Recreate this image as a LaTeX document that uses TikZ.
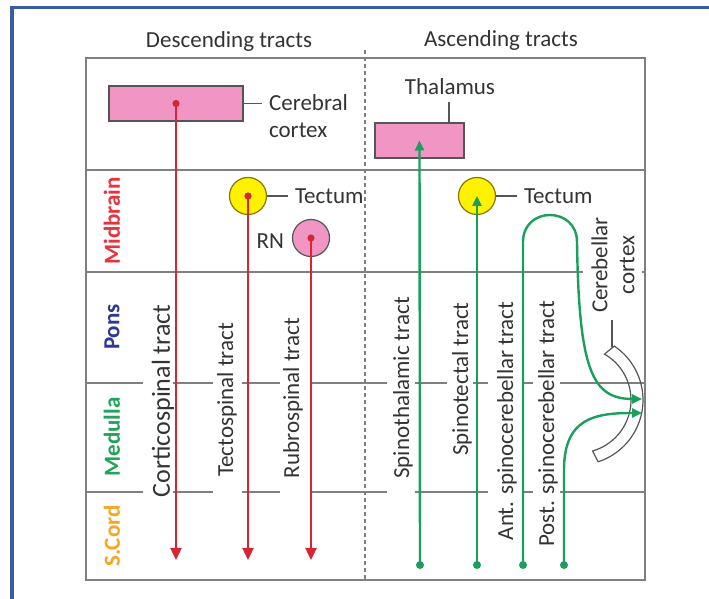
\documentclass[tikz,border=0pt]{standalone}
\usepackage{fontspec}
\setmainfont{Carlito}
\usetikzlibrary{arrows.meta,positioning,calc}

\definecolor{tractred}{HTML}{D62634}
\definecolor{tractgreen}{HTML}{1AA05A}
\definecolor{cortexpink}{HTML}{F196C4}
\definecolor{tectyellow}{HTML}{FFF200}
\definecolor{tectrim}{HTML}{8A7600}
\definecolor{boxgray}{HTML}{555555}
\definecolor{linegray}{HTML}{808080}
\definecolor{textgray}{HTML}{333333}
\definecolor{frameblue}{HTML}{3B5BA5}
\definecolor{midred}{HTML}{E8323C}
\definecolor{ponsblue}{HTML}{2B3990}
\definecolor{medgreen}{HTML}{21A35A}
\definecolor{cordorange}{HTML}{F5A623}

\begin{document}
\begin{tikzpicture}[x=0.5pt,y=-0.5pt,
    divider/.style={linegray, line width=0.7pt},
    desc/.style={tractred, line width=1.2pt, -{Triangle[length=6pt,width=5.5pt]}},
    asc/.style={tractgreen, line width=1.2pt, -{Triangle[length=5pt,width=4.5pt]}},
    pinkbox/.style={draw=boxgray, fill=cortexpink, line width=0.6pt, minimum height=17.5pt, inner sep=0pt},
    nucleus/.style={circle, line width=0.6pt, minimum size=18.5pt, inner sep=0pt},
    lbl/.style={text=textgray, font=\fontsize{11.5}{13.5}\selectfont},
    tractlbl/.style={lbl, rotate=90},
    region/.style={rotate=90, font=\bfseries\fontsize{11.5}{13.5}\selectfont}]
    \useasboundingbox (0,0) rectangle (709,599);

    % Frame
    \draw[frameblue, line width=1.5pt] (12,610) -- (12,8) -- (720,8);

    % Headings
    \node[lbl] (hdesc) at (229,41) {Descending tracts};
    \node[lbl] (hasc) at (501,40) {Ascending tracts};

    % Box and levels
    \draw[divider] (86,58) rectangle (645,580);
    \draw[divider] (86,170) -- (645,170);
    \draw[divider] (86,272) -- (583,272);
    \draw[divider] (642,272) -- (645,272);
    \foreach \a/\b in {86/143,173/213,242/280,312/387,415/447,473/488,522/533,560/645}
        \draw[divider] (\a,383) -- (\b,383);
    \foreach \a/\b in {86/143,173/213,242/280,312/387,415/488,522/533,560/645}
        \draw[divider] (\a,492) -- (\b,492);
    \draw[linegray, line width=0.7pt, dash pattern=on 2pt off 1.5pt] (365,50) -- (365,580);

    % Levels
    \node[region, midred] (midbrain) at (112,221) {Midbrain};
    \node[region, ponsblue] (pons) at (112,327) {Pons};
    \node[region, medgreen] (medulla) at (112,437) {Medulla};
    \node[region, cordorange] (scord) at (112,536) {S.Cord};

    % Nuclei
    \node[pinkbox, minimum width=67pt] (cerebral) at (176,103.5) {};
    \node[lbl, anchor=west, align=left] (cerlbl) at (262,116.5) {Cerebral\\cortex};
    \draw[boxgray, line width=0.6pt] (cerebral.east) -- (cerebral.east -| cerlbl.west);

    \node[nucleus, draw=tectrim, fill=tectyellow] (tectumL) at (248,196) {};
    \node[lbl, anchor=west] (tectLlbl) at (288,196) {Tectum};
    \draw[boxgray, line width=0.6pt] (tectumL.east) -- (tectLlbl.west);

    \node[nucleus, draw=boxgray, fill=cortexpink] (rn) at (311,238) {};
    \node[lbl, anchor=east] (rnlbl) at (291,241) {RN};

    \node[pinkbox, minimum width=44.5pt] (thalamus) at (419.5,140.5) {};
    \node[lbl] (thallbl) at (450,87) {Thalamus};
    \draw[boxgray, line width=0.6pt] (thallbl.south -| 449,0) -- (449,0 |- thalamus.north);

    \node[nucleus, draw=tectrim, fill=tectyellow] (tectumR) at (477,196) {};
    \node[lbl, anchor=west] (tectRlbl) at (517,196) {Tectum};
    \draw[boxgray, line width=0.6pt] (tectumR.east) -- (tectRlbl.west);

    % Cerebellar cortex
    \coordinate (cbtop) at (612,347);
    \draw[boxgray, line width=0.6pt]
        plot[smooth, domain=-56:72, samples=25] ({578+65*cos(\x)},{400+65*sin(\x)})
        -- plot[smooth, domain=74:-60, samples=25] ({578+53*cos(\x)},{400+53*sin(\x)})
        -- cycle;
    \node[lbl, rotate=90, align=center] (cblbl) at (613,265) {Cerebellar\\cortex};
    \draw[boxgray, line width=0.6pt] (cbtop) -- (cbtop |- cblbl.west);

    % Tract labels
    \node[tractlbl, font=\fontsize{13}{15}\selectfont] (cstlbl) at (163,401) {Corticospinal tract};
    \node[tractlbl] (tstlbl) at (227,400) {Tectospinal tract};
    \node[tractlbl] (rstlbl) at (293,398) {Rubrospinal tract};
    \node[tractlbl] (sthlbl) at (403,388) {Spinothalamic tract};
    \node[tractlbl] (stclbl) at (462,379) {Spinotectal tract};
    \node[tractlbl] (asclbl) at (507,421) {Ant. spinocerebellar tract};
    \node[tractlbl] (psclbl) at (548,424) {Post. spinocerebellar tract};

    % Descending tracts
    \coordinate (cstend) at (176,560);
    \coordinate (tstend) at (248,560);
    \coordinate (rstend) at (311,560);
    \draw[desc] (cerebral.center) -- (cstend);
    \draw[desc] (tectumL.center) -- (tstend);
    \draw[desc] (rn.center) -- (rstend);
    \foreach \n in {cerebral,tectumL,rn}
        \fill[tractred] (\n.center) circle (1.8pt);

    % Ascending tracts
    \coordinate (sthstart) at (420,565);
    \coordinate (stcstart) at (477,565);
    \coordinate (ascstart) at (523,565);
    \coordinate (pscstart) at (564,565);
    \coordinate (cbtipA) at (642,399);
    \coordinate (cbtipB) at (642,413);
    \draw[asc] (sthstart) -- (thalamus.center);
    \draw[asc] (stcstart) -- (tectumR.center);
    \draw[asc] (ascstart) -- (523,242) .. controls (523,206) and (577,206) .. (577,242)
        .. controls (579,370) and (592,399) .. (cbtipA);
    \draw[asc] (pscstart) -- (564,470) .. controls (564,418) and (595,413) .. (cbtipB);
    \foreach \n in {sthstart,stcstart,ascstart,pscstart}
        \fill[tractgreen] (\n) circle (2pt);
\end{tikzpicture}
\end{document}
